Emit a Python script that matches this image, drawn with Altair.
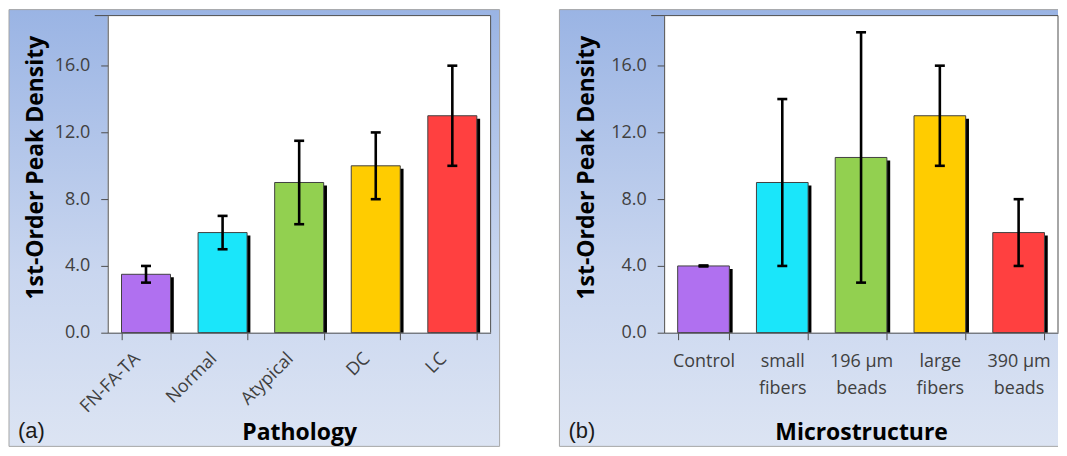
import altair as alt
import pandas as pd

# ---- data ----
path_cats = ["FN-FA-TA", "Normal", "Atypical", "DC", "LC"]
path_vals = [3.5, 6.0, 9.0, 10.0, 13.0]
path_lo = [3.0, 5.0, 6.5, 8.0, 10.0]
path_hi = [4.0, 7.0, 11.5, 12.0, 16.0]

micro_cats = ["Control", "small\nfibers", "196 μm\nbeads", "large\nfibers", "390 μm\nbeads"]
micro_vals = [4.0, 9.0, 10.5, 13.0, 6.0]
micro_lo = [3.97, 4.0, 3.0, 10.0, 4.0]
micro_hi = [4.03, 14.0, 18.0, 16.0, 8.0]

bar_colors = ["#b070f0", "#1ae6fa", "#92d050", "#ffcc00", "#ff4040"]
y_ticks = [0, 4, 8, 12, 16]

FONT = "Open Sans"
AXC = "#4d4d4d"
BORDER = "#a6a6a6"
H = 318
BG_TOP = -6
BG_BOT = 432

gradient = {
    "gradient": "linear", "x1": 0, "y1": 0, "x2": 0, "y2": 1,
    "stops": [
        {"offset": 0, "color": "#9ab4e4"},
        {"offset": 0.6, "color": "#c9d6ef"},
        {"offset": 1, "color": "#dce4f3"},
    ],
}

AX_STYLE = dict(
    zindex=1, domainColor=AXC, tickColor=AXC, labelColor="#404040",
    labelFont=FONT, labelFontSize=18, titleFont=FONT, titleFontSize=23,
    titleFontWeight="bold", titleColor="#000000", domainWidth=1, tickWidth=1,
    grid=False, tickSize=7, ticks=True,
)


def panel(cats, vals, lo, hi, W, p_inner, xaxis, letter, letter_x, left_ext, right_ext,
          ytitle_x, right_border):
    df = pd.DataFrame({"cat": cats, "val": vals, "lo": lo, "hi": hi})
    one = pd.DataFrame({"k": [0]})
    xs = alt.Scale(domain=cats, paddingInner=p_inner, paddingOuter=p_inner / 2)
    ys = alt.Scale(domain=[0, 19], nice=False, zero=True)
    yaxis = alt.Axis(
        values=y_ticks, format=".1f", title="1st-Order Peak Density",
        titleX=ytitle_x, titleY=152, titleAngle=-90, titleAlign="center",
        titleBaseline="middle", labelPadding=11, labelAlign="right",
        labelBaseline="middle", **AX_STYLE,
    )
    x_enc = alt.X("cat:N", scale=xs, axis=xaxis)
    y_enc = alt.Y("val:Q", scale=ys, axis=yaxis)
    ylo_enc = alt.Y("lo:Q", scale=ys, axis=yaxis)
    yhi_enc = alt.Y("hi:Q", scale=ys, axis=yaxis)

    bg = alt.Chart(one).mark_rect(fill=gradient).encode(
        x=alt.value(-left_ext), x2=alt.value(W + right_ext),
        y=alt.value(BG_TOP), y2=alt.value(BG_BOT)
    )
    b_left = alt.Chart(one).mark_rule(color=BORDER).encode(
        x=alt.value(-left_ext), y=alt.value(BG_TOP), y2=alt.value(BG_BOT)
    )
    b_top = alt.Chart(one).mark_rule(color=BORDER).encode(
        x=alt.value(-left_ext), x2=alt.value(W + right_ext), y=alt.value(BG_TOP)
    )
    b_bot = alt.Chart(one).mark_rule(color=BORDER).encode(
        x=alt.value(-left_ext), x2=alt.value(W + right_ext), y=alt.value(BG_BOT)
    )
    layers = [bg, b_left, b_top, b_bot]
    if right_border:
        layers.append(alt.Chart(one).mark_rule(color=BORDER).encode(
            x=alt.value(W + right_ext), y=alt.value(BG_TOP), y2=alt.value(BG_BOT)
        ))
    white = alt.Chart(one).mark_rect(fill="white").encode(
        x=alt.value(0), x2=alt.value(W), y=alt.value(0), y2=alt.value(H)
    )
    topline = alt.Chart(one).mark_rule(color=AXC, strokeWidth=1).encode(
        x=alt.value(-13), x2=alt.value(W), y=alt.value(0)
    )
    rightline = alt.Chart(one).mark_rule(color=AXC, strokeWidth=1).encode(
        x=alt.value(W), y=alt.value(0), y2=alt.value(H)
    )
    base = alt.Chart(df)
    shadow = base.mark_bar(color="black", xOffset=3.3, x2Offset=3.3, yOffset=3, y2Offset=0).encode(
        x=x_enc, y=y_enc, y2=alt.datum(0)
    )
    bars = base.mark_bar(stroke="#404040", strokeWidth=1).encode(
        x=x_enc, y=y_enc,
        color=alt.Color("cat:N", scale=alt.Scale(domain=cats, range=bar_colors), legend=None),
    )
    err = base.mark_rule(color="black", strokeWidth=2.6).encode(
        x=x_enc, y=ylo_enc, y2="hi:Q"
    )
    cap_lo = base.mark_tick(color="black", thickness=2.6, size=10, opacity=1).encode(
        x=x_enc, y=ylo_enc
    )
    cap_hi = base.mark_tick(color="black", thickness=2.6, size=10, opacity=1).encode(
        x=x_enc, y=yhi_enc
    )
    lab = alt.Chart(one).mark_text(
        text=letter, font="Liberation Sans", fontSize=22, color="#1a1a1a",
        align="left", baseline="alphabetic"
    ).encode(x=alt.value(letter_x), y=alt.value(424))
    layers += [white, topline, rightline, shadow, bars, err, cap_lo, cap_hi, lab]
    return alt.layer(*layers).properties(width=W, height=H)


WA = 384
WB = 395

xaxis_a = alt.Axis(
    title="Pathology", titleY=107, titleBaseline="alphabetic",
    labelAngle=-45, labelAlign="right", labelBaseline="middle",
    labelPadding=16, labelOffset=-9, tickBand="extent", **AX_STYLE,
)
xaxis_b = alt.Axis(
    title="Microstructure", titleY=107, titleBaseline="alphabetic",
    labelAngle=0, labelExpr="split(datum.label, '\\n')", labelLineHeight=27,
    labelPadding=13, tickBand="extent", **AX_STYLE,
)

pa = panel(path_cats, path_vals, path_lo, path_hi, WA, 0.36, xaxis_a, "(a)", -90, 99, 9, -72, True)
pb = panel(micro_cats, micro_vals, micro_lo, micro_hi, WB, 0.344, xaxis_b, "(b)", -96, 105, 0, -78, False)

chart = alt.hconcat(pa, pb, spacing=58).properties(padding=0).configure_view(
    stroke=None
).configure_axisY(
    labelPadding=11, tickSize=7, ticks=True, tickColor=AXC
)

chart.save("out.html", embed_options={"renderer": "svg", "actions": False})
